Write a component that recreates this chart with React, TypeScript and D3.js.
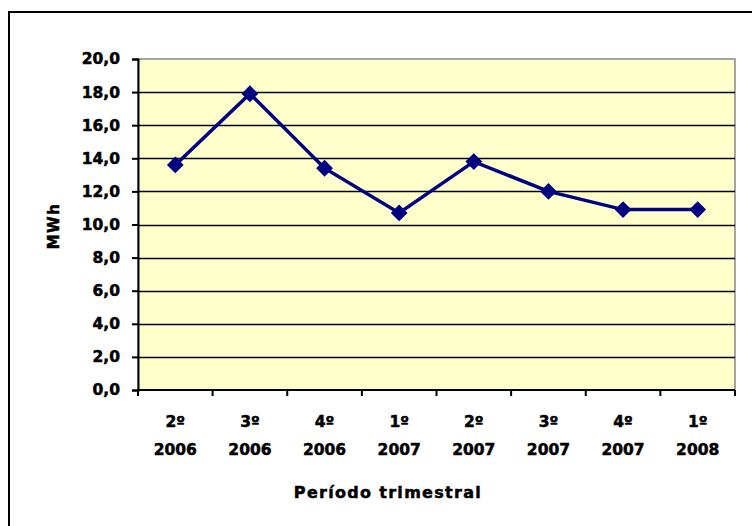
import React, { useEffect, useRef } from 'react';
import * as d3 from 'd3';

// trimestres e anos
const quarters = ['2º', '3º', '4º', '1º', '2º', '3º', '4º', '1º'];
const years = ['2006', '2006', '2006', '2007', '2007', '2007', '2007', '2008'];
// consumo em MWh
const values = [13.6, 17.9, 13.4, 10.7, 13.8, 12.0, 10.9, 10.9];
const yTicks = [0, 2, 4, 6, 8, 10, 12, 14, 16, 18, 20];

const FONT = '"DejaVu Sans", Verdana, sans-serif';

function App() {
  const svgRef = useRef<SVGSVGElement>(null);

  useEffect(() => {
    const svg = d3.select(svgRef.current);
    svg.selectAll('*').remove();

    const W = 752, H = 526;
    const left = 138, right = 735, top = 59, bottom = 390;

    // moldura externa (só esquerda e topo visíveis)
    svg.append('rect')
      .attr('x', 9).attr('y', 12)
      .attr('width', W + 20).attr('height', H + 20)
      .attr('fill', '#fff')
      .attr('stroke', '#000')
      .attr('stroke-width', 2);

    const keys = values.map((_, i) => String(i));
    const x = d3.scaleBand().domain(keys).range([left, right]);
    const y = d3.scaleLinear().domain([0, 20]).range([bottom, top]);

    // área do gráfico
    svg.append('rect')
      .attr('x', left).attr('y', top)
      .attr('width', right - left).attr('height', bottom - top)
      .attr('fill', '#ffffcc')
      .attr('stroke', '#888')
      .attr('stroke-width', 1.5);

    // linhas de grade
    svg.selectAll('.grid')
      .data(yTicks.filter(d => d > 0 && d < 20))
      .enter().append('line')
      .attr('x1', left).attr('x2', right)
      .attr('y1', d => Math.round(y(d)) + 0.5)
      .attr('y2', d => Math.round(y(d)) + 0.5)
      .attr('stroke', '#000')
      .attr('stroke-width', 1.5);

    // eixo Y
    const yAxis = svg.append('g')
      .attr('transform', `translate(${left},0)`)
      .call(d3.axisLeft(y).tickValues(yTicks).tickSize(6).tickPadding(12)
        .tickFormat(d => d3.format('.1f')(d as number).replace('.', ',')));
    yAxis.select('.domain').attr('stroke', '#000').attr('stroke-width', 2);
    yAxis.selectAll('.tick line').attr('stroke', '#000').attr('stroke-width', 2);
    yAxis.selectAll('.tick text')
      .attr('font-family', FONT).attr('font-weight', 'bold')
      .attr('font-size', 15.5).attr('fill', '#000')
      .attr('stroke', '#000').attr('stroke-width', 0.5);

    // eixo X
    const xAxisLine = svg.append('g');
    xAxisLine.append('line')
      .attr('x1', left).attr('x2', right)
      .attr('y1', bottom).attr('y2', bottom)
      .attr('stroke', '#000').attr('stroke-width', 2);
    const edges = keys.map(k => x(k) as number).concat([right]);
    xAxisLine.selectAll('.xtick')
      .data(edges)
      .enter().append('line')
      .attr('x1', d => d).attr('x2', d => d)
      .attr('y1', bottom).attr('y2', bottom + 6)
      .attr('stroke', '#000').attr('stroke-width', 2);

    const cx = (i: number) => (x(String(i)) as number) + x.bandwidth() / 2;

    const boldText = (sel: any, size: number) => sel
      .attr('font-family', FONT).attr('font-weight', 'bold')
      .attr('font-size', size)
      .attr('fill', '#000')
      .attr('stroke', '#000').attr('stroke-width', 0.5);

    svg.selectAll('.q')
      .data(quarters)
      .enter().append('text')
      .attr('x', (_, i) => cx(i))
      .attr('y', 427)
      .attr('text-anchor', 'middle')
      .call(boldText, 15.5)
      .text(d => d);

    svg.selectAll('.yr')
      .data(years)
      .enter().append('text')
      .attr('x', (_, i) => cx(i))
      .attr('y', 455)
      .attr('text-anchor', 'middle')
      .call(boldText, 15.5)
      .text(d => d);

    // títulos
    svg.append('text')
      .attr('x', 388).attr('y', 498)
      .attr('text-anchor', 'middle')
      .call(boldText, 16)
      .attr('letter-spacing', 1.3)
      .text('Período trimestral');

    svg.append('text')
      .attr('transform', 'translate(59,226) rotate(-90)')
      .attr('text-anchor', 'middle')
      .call(boldText, 15)
      .attr('letter-spacing', 1.5)
      .text('MWh');

    // série
    const line = d3.line<number>()
      .x((_, i) => cx(i))
      .y(d => y(d));
    svg.append('path')
      .datum(values)
      .attr('d', line)
      .attr('fill', 'none')
      .attr('stroke', '#000080')
      .attr('stroke-width', 3.5);

    const diamond = d3.symbol().type(d3.symbolDiamond2).size(180);
    svg.selectAll('.pt')
      .data(values)
      .enter().append('path')
      .attr('transform', (d, i) => `translate(${cx(i)},${y(d)})`)
      .attr('d', diamond)
      .attr('fill', '#000080');
  }, []);

  return (
    <svg ref={svgRef} width={752} height={526}
      style={{ position: 'absolute', left: 0, top: 0, display: 'block' }} />
  );
}

export default App;
